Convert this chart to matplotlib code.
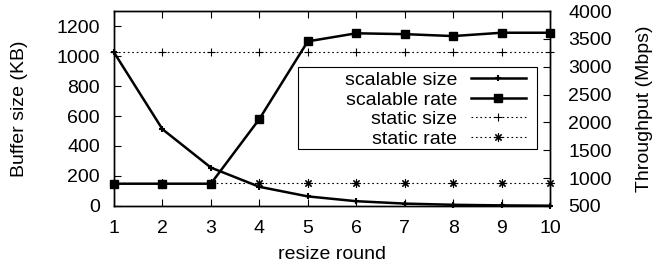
import matplotlib
matplotlib.use('Agg')
import matplotlib.pyplot as plt
from matplotlib.patches import Rectangle

plt.rcParams['font.family'] = ['Liberation Sans', 'DejaVu Sans']
plt.rcParams['font.size'] = 14

rounds = [1, 2, 3, 4, 5, 6, 7, 8, 9, 10]
scalable_size = [1024, 512, 256, 128, 64, 32, 16, 8, 4, 2]
static_size = [1024, 1024, 1024, 1024, 1024, 1024, 1024, 1024, 1024, 1024]
scalable_rate = [900, 900, 900, 2060, 3455, 3600, 3585, 3550, 3610, 3610]
static_rate = [920, 920, 920, 920, 920, 920, 920, 920, 920, 920]

fig = plt.figure(figsize=(6.57, 2.66), dpi=100)
ax = fig.add_axes([0.1735, 0.2256, 0.6636, 0.733])
ax2 = ax.twinx()

dots = (0, (1.5, 2.5))
l1, = ax.plot(rounds, scalable_size, color='black', lw=1.8, marker='+', ms=5, mew=1.5, clip_on=False, zorder=3)
l3, = ax.plot(rounds, static_size, color='black', lw=0.8, ls=dots, marker='+', ms=6, mew=0.8, clip_on=False)
l2, = ax2.plot(rounds, scalable_rate, color='black', lw=1.8, marker='s', ms=5.5, clip_on=False, zorder=3)
l4, = ax2.plot(rounds, static_rate, color='black', lw=0.8, ls=dots, marker=(8, 2, 0), ms=6, mew=0.8, clip_on=False)

ax.set_xlim(1, 10)
ax.set_ylim(0, 1300)
ax2.set_ylim(500, 4000)
ax.set_xticks(rounds)
ax.set_yticks(range(0, 1201, 200))
ax2.set_yticks(range(500, 4001, 500))

ax.tick_params(axis='x', direction='in', top=True, length=5, pad=10)
ax.tick_params(axis='y', direction='in', length=5, pad=10)
ax2.tick_params(axis='y', direction='in', length=5, pad=13)
for a in (ax, ax2):
    for s in a.spines.values():
        s.set_linewidth(1.0)

ax.set_xlabel('resize round')
ax.set_ylabel('Buffer size (KB)')
ax2.set_ylabel('Throughput (Mbps)')
ax.xaxis.set_label_coords(0.5, -0.205)
ax.yaxis.set_label_coords(-0.197, 0.5)
ax2.yaxis.set_label_coords(1.197, 0.5)

# legend frame drawn by hand, gnuplot style (wide left padding)
box = Rectangle((0.422, 0.292), 0.548, 0.421, transform=ax2.transAxes,
                facecolor='white', edgecolor='black', lw=0.8, zorder=4)
ax2.add_patch(box)
leg = ax2.legend([l1, l2, l3, l4], ['scalable size', 'scalable rate', 'static size', 'static rate'],
                 loc='upper right', bbox_to_anchor=(0.945, 0.69), borderaxespad=0, borderpad=0,
                 markerfirst=False, frameon=False,
                 handlelength=2.83, labelspacing=0.1, handletextpad=0.72)
leg.set_zorder(5)

fig.savefig('out.png', dpi=100)
